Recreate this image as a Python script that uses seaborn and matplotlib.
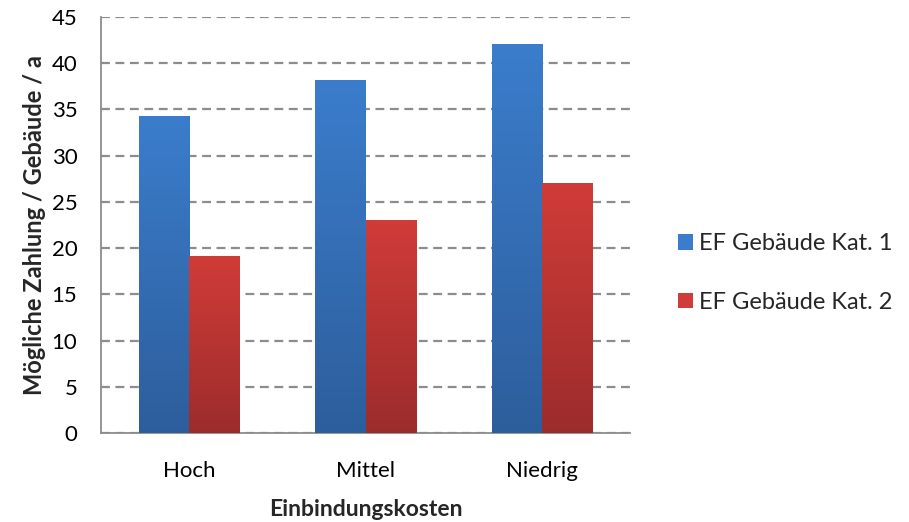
import numpy as np
import pandas as pd
import matplotlib
matplotlib.use("Agg")
import matplotlib.pyplot as plt
import seaborn as sns
from matplotlib.colors import LinearSegmentedColormap
from matplotlib.patches import Patch

# data
categories = ["Hoch", "Mittel", "Niedrig"]
series_names = ["EF Gebäude Kat. 1", "EF Gebäude Kat. 2"]
kat1 = [34.3, 38.2, 42.1]
kat2 = [19.1, 23.0, 27.0]

df = pd.DataFrame({
    "Einbindungskosten": categories * 2,
    "Wert": kat1 + kat2,
    "Serie": [series_names[0]] * 3 + [series_names[1]] * 3,
})

sns.set_style("white")
plt.rcParams["font.family"] = ["Lato", "DejaVu Sans"]

# top / bottom colours of the gradient fill
grad = {
    series_names[0]: ("#3b7dcc", "#2d5e9c"),
    series_names[1]: ("#d03c38", "#9c2c2c"),
}
palette = {k: v[0] for k, v in grad.items()}

fig = plt.figure(figsize=(9.09, 5.22), dpi=100)
ax = fig.add_axes([101 / 909, 1 - 433 / 522, 529 / 909, 416 / 522])

sns.barplot(data=df, x="Einbindungskosten", y="Wert", hue="Serie",
            order=categories, hue_order=series_names, palette=palette,
            width=0.57, gap=0, linewidth=0, saturation=1, ax=ax, zorder=3,
            legend=False)

# gradient overlay, clipped to each bar drawn by seaborn
for cont, name in zip(ax.containers, series_names):
    top, bot = grad[name]
    cmap = LinearSegmentedColormap.from_list(name, [bot, top])
    for bar in cont:
        x0, y0 = bar.get_x(), bar.get_y()
        w, h = bar.get_width(), bar.get_height()
        img = ax.imshow(np.linspace(0, 1, 256).reshape(-1, 1), cmap=cmap,
                        extent=[x0, x0 + w, y0, y0 + h], origin="lower",
                        aspect="auto", zorder=3.5, interpolation="bicubic")
        img.set_clip_path(bar)

ax.set_xlim(-0.5, 2.5)
ax.set_ylim(0, 45)
ax.set_yticks(range(0, 46, 5))

ax.yaxis.grid(True, linestyle=(0, (4, 2.5)), color="#8c8c8c", linewidth=1.6, zorder=0)
ax.xaxis.grid(False)
ax.set_axisbelow(True)

for s in ["top", "right"]:
    ax.spines[s].set_visible(False)
for s in ["left", "bottom"]:
    ax.spines[s].set_color("#8c8c8c")
    ax.spines[s].set_linewidth(1.3)

ax.tick_params(axis="y", direction="inout", length=8, width=1.3, color="#8c8c8c",
               labelsize=16, pad=13, labelcolor="black")
ax.tick_params(axis="x", which="major", length=0, labelsize=16, pad=20, labelcolor="black")
ax.set_xticks([-0.5, 0.5, 1.5, 2.5], minor=True)
ax.tick_params(axis="x", which="minor", direction="out", length=7, width=1.3, color="#8c8c8c")

ax.set_xlabel("Einbindungskosten", fontsize=16.5, fontweight="bold", labelpad=13)
ax.set_ylabel("Mögliche Zahlung / Gebäude / a", fontsize=17, fontweight="bold", labelpad=4)

handles = [Patch(facecolor=grad[n][0], edgecolor="none") for n in series_names]
fig.legend(handles, series_names, loc="center left", bbox_to_anchor=(0.735, 0.477),
           frameon=False, fontsize=17, handlelength=0.65, handleheight=0.65,
           handletextpad=0.25, labelspacing=1.6, borderaxespad=0)

fig.savefig("out.png", dpi=100)
